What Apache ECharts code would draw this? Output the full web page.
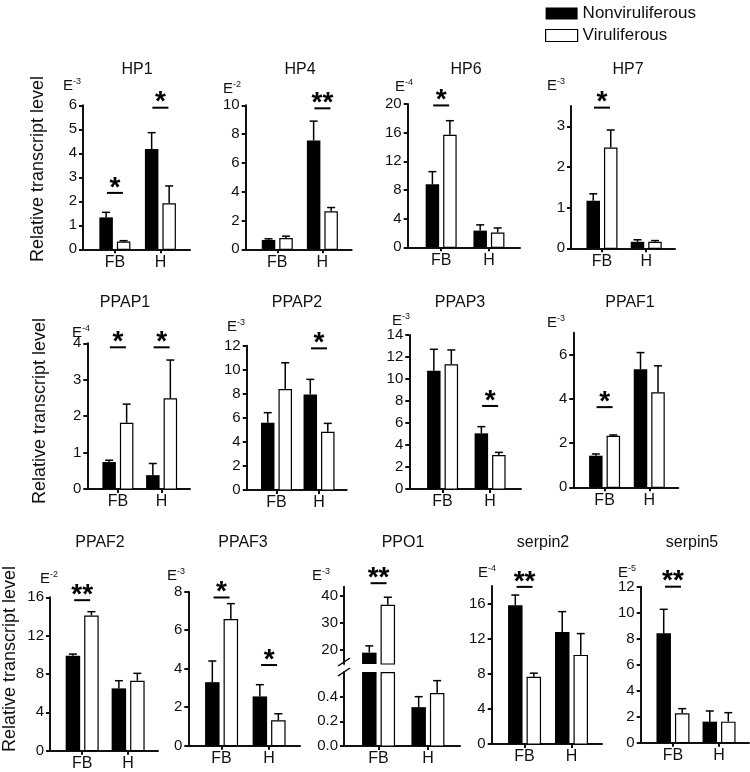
<!DOCTYPE html>
<html><head><meta charset="utf-8">
<script src="https://cdn.jsdelivr.net/npm/echarts@6/dist/echarts.min.js"></script>
<style>html,body{margin:0;padding:0;background:#fff}#c{width:750px;height:772px}</style>
</head><body><div id="c"></div>
<script>
// ---------- DATA ----------
const genes = ['HP1','HP4','HP6','HP7','PPAP1','PPAP2','PPAP3','PPAF1','PPAF2','PPAF3','PPO1','serpin2','serpin5'];
const categories = ['FB','H'];
const seriesNames = ['Nonviruliferous','Viruliferous'];
const exponents = ['-3','-2','-4','-3','-4','-3','-3','-3','-2','-3','-3','-4','-5'];
const nonvirMean = [[1.33,4.18],[0.65,7.55],[8.8,2.33],[1.17,0.16],[0.74,0.38],[5.6,7.95],[10.76,5.06],[1.43,5.35],[9.9,6.5],[3.3,2.56],[19.0,0.315],[15.8,12.76],[8.41,1.62]];
const nonvirSem  = [[0.21,0.68],[0.08,1.35],[1.76,0.8],[0.17,0.05],[0.05,0.32],[0.83,1.25],[1.94,0.61],[0.08,0.75],[0.18,0.8],[1.1,0.61],[2.5,0.085],[1.17,2.32],[1.85,0.82]];
const virMean    = [[0.32,1.92],[0.78,2.64],[15.7,2.05],[2.48,0.16],[1.82,2.49],[8.4,4.85],[11.33,3.09],[2.33,4.3],[14.09,7.3],[6.58,1.32],[36.7,0.43],[7.65,10.15],[2.26,1.62]];
const virSem     = [[0.04,0.72],[0.13,0.26],[1.97,0.65],[0.43,0.03],[0.51,1.05],[2.18,0.69],[1.31,0.24],[0.04,1.2],[0.41,0.77],[0.8,0.34],[2.8,0.1],[0.42,2.43],[0.36,0.69]];
const yTickValues = [[0,1,2,3,4,5,6],[0,2,4,6,8,10],[0,4,8,12,16,20],[0,1,2,3],[0,1,2,3,4],[0,2,4,6,8,10,12],[0,2,4,6,8,10,12,14],[0,2,4,6],[0,4,8,12,16],[0,2,4,6,8],[0,0.2,0.4],[0,4,8,12,16],[0,2,4,6,8,10,12]];
const yAxisMax = [6,10,20,3.5,4,12,14,7,16,8,0.6,18,12];
const ppo1UpperTicks = [20,30,40];
const ppo1UpperRange = [14.8,43.4];
const sigMarks  = [['*','*'],['','**'],['*',''],['*',''],['*','*'],['','*'],['','*'],['*',''],['**',''],['*','*'],['**',''],['**',''],['**','']];
const sigLevels = [[2.35,5.9],[0,9.79],[19.8,0],[3.46,0],[3.89,3.89],[0,11.78],[0,7.55],[3.63,0],[15.7,0],[7.7,4.19],[44.7,0],[17.9,0],[12.0,0]];
const yLabel = 'Relative transcript level';

// ---------- LAYOUT (pixels) ----------
// [axisLeft, axisRight, yTop, yZero, titleX, titleY, expX, expY]
const layout = [
 [83,190,105.3,249.3,137,70,63,85],
 [245.7,351.7,105.3,249.3,300,70,223,88],
 [407.7,520,104,247.3,466,70,395,86],
 [571,675,106,248.3,628,70,547,85],
 [87.3,190,343.3,489,125,303,72,332],
 [246.7,346.7,345.7,490,297,303,227,326],
 [409.3,521,335,489,460,303,392,320],
 [573.3,678.3,332.7,487.3,630,303,547,322],
 [50,158,597.3,750.7,100,543,40,578],
 [188.3,300,591.7,745.7,243,543,167,575],
 [344,460,672,746,403,543,312,575],
 [491.7,602,586,744,543,543,478,572],
 [640.7,749,586.7,742.7,692,543,618,572]
];
const ppo1UpperBox = [586.7,664];
const PPO1 = 10;
const yLabelPos = [[38.5,169],[40,411],[10,659]];
const FONT = 'Liberation Sans, Arial, sans-serif';
const INK = '#111';
const XMIN = -0.7, XMAX = 1.65;

const grids = [], xAxes = [], yAxes = [], series = [], graphics = [];

function axisCommon(){
  return {
    axisLine:{show:true,onZero:false,lineStyle:{color:INK,width:2}},
    splitLine:{show:false}
  };
}
function makeX(gi, show){
  return Object.assign(axisCommon(),{
    gridIndex:gi,type:'value',min:XMIN,max:XMAX,show:show,
    axisTick:{show:true,length:4,customValues:[0,1],lineStyle:{color:INK,width:2}},
    axisLabel:{customValues:[0,1],margin:5,color:INK,fontFamily:FONT,fontSize:16,
      formatter:v=>categories[Math.round(v)]}
  });
}
function makeY(gi, min, max, ticks, fmt){
  return Object.assign(axisCommon(),{
    gridIndex:gi,type:'value',min:min,max:max,
    axisTick:{show:true,length:4,customValues:ticks,lineStyle:{color:INK,width:2}},
    axisLabel:{customValues:ticks,margin:6,color:INK,fontFamily:FONT,fontSize:15,formatter:fmt||(v=>String(v))}
  });
}

function barSeries(gi, group, data, barW, baseVal){
  const off = (group===0?-1:1)*(barW/2+2);
  return {
    type:'custom',name:seriesNames[group],xAxisIndex:gi,yAxisIndex:gi,
    itemStyle:group===0?{color:'#000'}:{color:'#fff',borderColor:'#000',borderWidth:1},
    encode:{x:0,y:1},
    data:data,
    renderItem:function(params,api){
      const x=api.value(0), m=api.value(1), s=api.value(2);
      const cs=params.coordSys;
      if(m<=baseVal) return;
      const c0=api.coord([x,baseVal]);
      const cx=c0[0]+off;
      const top=cs.y, bottom=cs.y+cs.height;
      const yb=Math.min(c0[1],bottom);
      let yt=api.coord([x,m])[1];
      const clipped=yt<top;
      if(clipped) yt=top;
      const ch=[];
      if(group===0){
        ch.push({type:'rect',shape:{x:cx-barW/2,y:yt,width:barW,height:yb-yt},style:{fill:'#000'}});
      } else {
        ch.push({type:'rect',shape:{x:cx-barW/2+0.6,y:yt+0.6,width:barW-1.2,height:yb-yt-0.6},style:{fill:'#fff',stroke:'#000',lineWidth:1.2}});
      }
      if(!clipped){
        const ye=api.coord([x,m+s])[1];
        ch.push({type:'line',shape:{x1:cx,y1:yt,x2:cx,y2:ye},style:{stroke:'#000',lineWidth:1.5}});
        ch.push({type:'line',shape:{x1:cx-4,y1:ye,x2:cx+4,y2:ye},style:{stroke:'#000',lineWidth:1.5}});
      }
      return {type:'group',children:ch};
    }
  };
}

function sigSeries(gi, i){
  const data=[];
  sigMarks[i].forEach((mk,k)=>{ if(mk) data.push([k,sigLevels[i][k],mk]); });
  return {
    type:'custom',xAxisIndex:gi,yAxisIndex:gi,encode:{x:0,y:1},silent:true,
    data:data.map(d=>[d[0],d[1]]),
    renderItem:function(params,api){
      const p=api.coord([api.value(0),api.value(1)]);
      const mk=data[params.dataIndex][2];
      return {type:'group',children:[
        {type:'line',shape:{x1:p[0]-8,y1:p[1],x2:p[0]+8,y2:p[1]},style:{stroke:'#000',lineWidth:2}},
        {type:'text',x:p[0],y:p[1]-5,style:{text:mk,fill:'#000',font:'bold 28px '+FONT,textAlign:'center',textVerticalAlign:'middle'}}
      ]};
    }
  };
}

genes.forEach((g,i)=>{
  const [L,R,T,Z,tx,ty,ex,ey]=layout[i];
  const barW = i>=8 ? 14.5 : 13.5;
  const d0=[0,1].map(k=>[k,nonvirMean[i][k],nonvirSem[i][k]]);
  const d1=[0,1].map(k=>[k,virMean[i][k],virSem[i][k]]);
  let gi=grids.length;
  grids.push({left:L,top:T,width:R-L,height:Z-T});
  xAxes.push(makeX(gi,true));
  if(i===PPO1){
    yAxes.push(makeY(gi,0,yAxisMax[i],yTickValues[i],v=>v.toFixed(1)));
  } else {
    yAxes.push(makeY(gi,0,yAxisMax[i],yTickValues[i]));
  }
  series.push(barSeries(gi,0,d0,barW,0));
  series.push(barSeries(gi,1,d1,barW,0));
  if(i===PPO1){
    const gu=grids.length;
    grids.push({left:L,top:ppo1UpperBox[0],width:R-L,height:ppo1UpperBox[1]-ppo1UpperBox[0]});
    xAxes.push(makeX(gu,false));
    yAxes.push(makeY(gu,ppo1UpperRange[0],ppo1UpperRange[1],ppo1UpperTicks));
    series.push(barSeries(gu,0,d0,barW,ppo1UpperRange[0]));
    series.push(barSeries(gu,1,d1,barW,ppo1UpperRange[0]));
    series.push(sigSeries(gu,i));
    [662,672].forEach(yy=>graphics.push({type:'line',shape:{x1:L-6,y1:yy+4,x2:L+6,y2:yy-4},style:{stroke:'#000',lineWidth:1.5}}));
  } else {
    series.push(sigSeries(gi,i));
  }
  graphics.push({type:'text',x:tx,y:ty,style:{text:g,fill:INK,font:'16px '+FONT,textAlign:'center',textVerticalAlign:'middle'}});
  graphics.push({type:'text',x:ex,y:ey,style:{text:'{e|E}{s|'+exponents[i]+'}',fill:INK,textAlign:'left',textVerticalAlign:'middle',
    rich:{e:{fontSize:15,fontFamily:FONT,fill:INK,lineHeight:16,verticalAlign:'bottom'},s:{fontSize:9,fontFamily:FONT,fill:INK,lineHeight:16,verticalAlign:'top'}}}});
});
yLabelPos.forEach(p=>graphics.push({type:'text',x:p[0],y:p[1],rotation:Math.PI/2,
  style:{text:yLabel,fill:INK,font:'18px '+FONT,textAlign:'center',textVerticalAlign:'middle'}}));

const chart=echarts.init(document.getElementById('c'),null,{renderer:'canvas'});
chart.setOption({
  animation:false,
  backgroundColor:'#fff',
  legend:{orient:'vertical',left:540,top:0,itemWidth:32,itemHeight:12,itemGap:5,selectedMode:false,
    textStyle:{fontFamily:FONT,fontSize:17,color:INK,padding:[0,0,0,0]},
    data:[{name:'Nonviruliferous',icon:'rect',itemStyle:{color:'#000'}},
          {name:'Viruliferous',icon:'rect',itemStyle:{color:'#fff',borderColor:'#000',borderWidth:1.2}}]},
  grid:grids,xAxis:xAxes,yAxis:yAxes,series:series,graphic:graphics
});
</script></body></html>
